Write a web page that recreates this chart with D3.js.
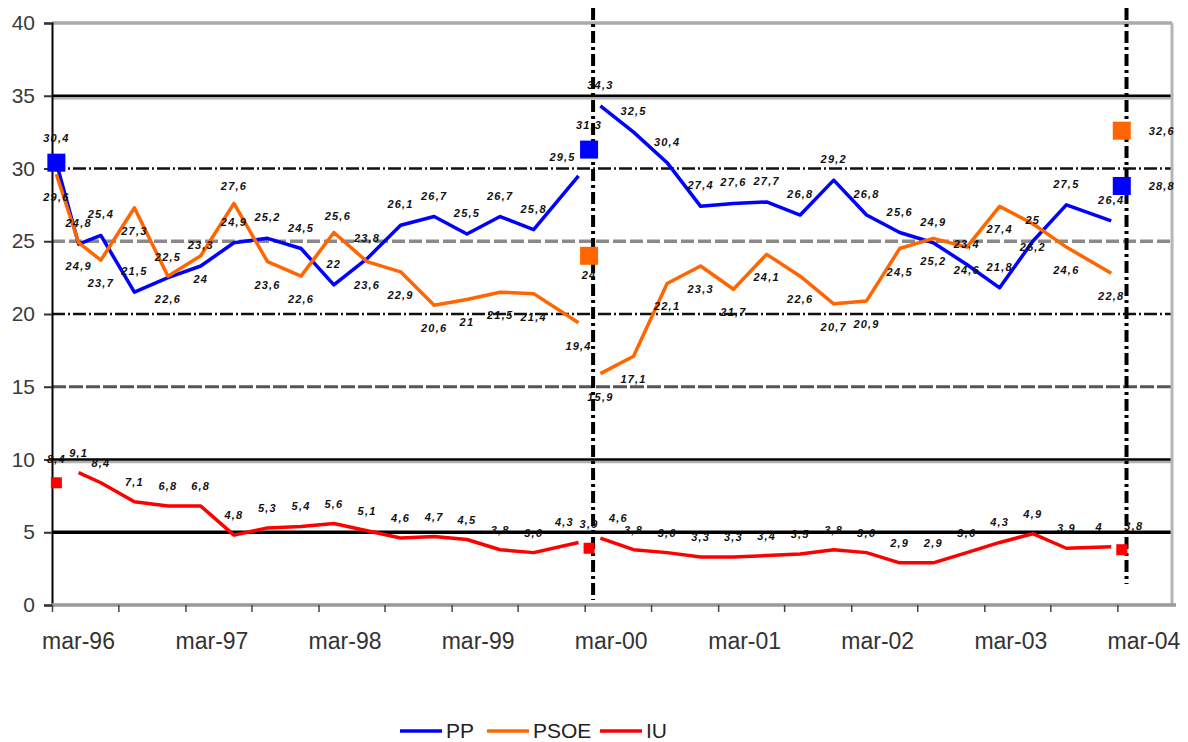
<!DOCTYPE html>
<html>
<head>
<meta charset="utf-8">
<script src="https://cdn.jsdelivr.net/npm/d3@7/dist/d3.min.js"></script>
<style>
  body { margin: 0; background: #fff; }
  svg { display: block; font-family: "Liberation Sans", Arial, sans-serif; }
</style>
</head>
<body>
<svg width="1188" height="742"></svg>
<script>
// fechas de los sondeos (null en 2000-03 = corte entre legislaturas)
const dates = ['1996-03', '1996-05', '1996-07', '1996-10', '1997-01', '1997-04', '1997-07', '1997-10',
  '1998-01', '1998-04', '1998-07', '1998-10', '1999-01', '1999-04', '1999-07', '1999-10', '2000-02',
  '2000-03',
  '2000-04', '2000-07', '2000-10', '2001-01', '2001-04', '2001-07', '2001-10', '2002-01', '2002-04',
  '2002-07', '2002-10', '2003-01', '2003-04', '2003-07', '2003-10', '2004-02'];

const ppValues = [30.4, 24.8, 25.4, 21.5, 22.5, 23.3, 24.9, 25.2, 24.5, 22, 23.8, 26.1, 26.7, 25.5, 26.7, 25.8, 29.5,
  null,
  34.3, 32.5, 30.4, 27.4, 27.6, 27.7, 26.8, 29.2, 26.8, 25.6, 24.9, 23.4, 21.8, 25.0, 27.5, 26.4];
const psoeValues = [29.6, 24.9, 23.7, 27.3, 22.6, 24, 27.6, 23.6, 22.6, 25.6, 23.6, 22.9, 20.6, 21, 21.5, 21.4, 19.4,
  null,
  15.9, 17.1, 22.1, 23.3, 21.7, 24.1, 22.6, 20.7, 20.9, 24.5, 25.2, 24.6, 27.4, 26.2, 24.6, 22.8];
const iuValues = [null, 9.1, 8.4, 7.1, 6.8, 6.8, 4.8, 5.3, 5.4, 5.6, 5.1, 4.6, 4.7, 4.5, 3.8, 3.6, 4.3,
  null,
  4.6, 3.8, 3.6, 3.3, 3.3, 3.4, 3.5, 3.8, 3.6, 2.9, 2.9, 3.6, 4.3, 4.9, 3.9, 4.0];

// resultados electorales (cuadrados)
const electionMonths = ['1996-03', '2000-03', '2004-03'];
const electionDays = ['2000-03-12', '2004-03-14'];
const ppElection = [30.4, 31.3, 28.8];
const psoeElection = [null, 24, 32.6];
const iuElection = [8.4, 3.9, 3.8];

const yTicks = [0, 5, 10, 15, 20, 25, 30, 35, 40];
const xLabels = ['mar-96', 'mar-97', 'mar-98', 'mar-99', 'mar-00', 'mar-01', 'mar-02', 'mar-03', 'mar-04'];

const seriesNames = ['PP', 'PSOE', 'IU'];
const seriesColors = ['#0000ff', '#ff6600', '#ff0000'];

const svg = d3.select('svg');
const parseMonth = d3.timeParse('%Y-%m');
const parseDay = d3.timeParse('%Y-%m-%d');

const start = new Date(1996, 1, 18);
const x = d3.scaleTime()
  .domain([start, new Date(2004, 1, 18)])
  .range([52, 1117.4]);
const y = d3.scaleLinear().domain([0, 40]).range([605, 23]);

const plotLeft = 52, plotRight = 1172;

// líneas horizontales de referencia
const grid = svg.append('g');
const gridStyle = v => ({
  40: { stroke: '#aaaaaa', w: 3.5, dash: null },
  35: { stroke: '#000', w: 2.5, dash: null, under: true },
  30: { stroke: '#111', w: 2.5, dash: '13,3,2,3' },
  25: { stroke: '#8a8a8a', w: 3.5, dash: '13,4' },
  20: { stroke: '#111', w: 2.5, dash: '13,3,2,3' },
  15: { stroke: '#555', w: 3, dash: '14,3' },
  10: { stroke: '#000', w: 2.5, dash: null, under: true },
  5: { stroke: '#000', w: 3.5, dash: null }
}[v]);

yTicks.filter(v => v > 0).forEach(v => {
  const s = gridStyle(v);
  if (s.under) {
    grid.append('line')
      .attr('x1', plotLeft).attr('x2', plotRight)
      .attr('y1', y(v) + 2.5).attr('y2', y(v) + 2.5)
      .attr('stroke', '#b0b0b0').attr('stroke-width', 2.5);
  }
  grid.append('line')
    .attr('x1', plotLeft).attr('x2', plotRight)
    .attr('y1', y(v)).attr('y2', y(v))
    .attr('stroke', s.stroke)
    .attr('stroke-width', s.w)
    .attr('stroke-dasharray', s.dash);
});

// borde derecho del área
svg.append('line')
  .attr('x1', plotRight).attr('x2', plotRight)
  .attr('y1', y(40)).attr('y2', y(0))
  .attr('stroke', '#b5b5b5').attr('stroke-width', 3);

// eje Y
const yAxis = svg.append('g')
  .attr('transform', `translate(${plotLeft},0)`)
  .call(d3.axisLeft(y).tickValues(yTicks).tickSize(8).tickPadding(9));
yAxis.select('.domain').attr('stroke', '#000').attr('stroke-width', 2);
yAxis.selectAll('.tick line').attr('stroke', '#333').attr('stroke-width', 2);
yAxis.selectAll('.tick text')
  .attr('font-size', 21).attr('fill', '#3a3a3a')
  .attr('font-family', '"Liberation Sans", Arial, sans-serif');

// eje X
const tickDates = d3.range(17).map(i => d3.timeMonth.offset(start, 6 * i));
const xAxis = svg.append('g')
  .attr('transform', `translate(0,${y(0)})`)
  .call(d3.axisBottom(x)
    .tickValues(tickDates)
    .tickSize(7)
    .tickFormat((d, i) => (i % 2 === 0 ? xLabels[i / 2] : '')));
xAxis.select('.domain').remove();
xAxis.insert('line', ':first-child')
  .attr('x1', plotLeft).attr('x2', 1176)
  .attr('stroke', '#999').attr('stroke-width', 3.5);
xAxis.selectAll('.tick line').attr('stroke', '#444').attr('stroke-width', 1.5);
xAxis.selectAll('.tick text')
  .attr('dx', 26).attr('dy', 34)
  .attr('font-size', 23).attr('fill', '#333')
  .attr('font-family', '"Liberation Sans", Arial, sans-serif');

// líneas verticales de las elecciones
svg.append('g').selectAll('line')
  .data(electionDays)
  .join('line')
  .attr('x1', d => x(parseDay(d))).attr('x2', d => x(parseDay(d)))
  .attr('y1', 8)
  .attr('y2', (d, i) => (i === 0 ? 600 : 584))
  .attr('stroke', '#000')
  .attr('stroke-width', 4)
  .attr('stroke-dasharray', '12,4,3,4');

// series
const allValues = [ppValues, psoeValues, iuValues];
const allElection = [ppElection, psoeElection, iuElection];
const series = seriesNames.map((name, k) => ({
  name,
  color: seriesColors[k],
  points: dates.map((d, i) => ({ key: d, date: parseMonth(d), v: allValues[k][i] })),
  squares: electionMonths.map((d, i) => ({ key: 'e' + d, date: parseMonth(d), v: allElection[k][i], i }))
    .filter(p => p.v != null)
}));

const line = d3.line()
  .defined(d => d.v != null)
  .x(d => x(d.date))
  .y(d => y(d.v));

svg.append('g').selectAll('path')
  .data(series)
  .join('path')
  .attr('fill', 'none')
  .attr('stroke', d => d.color)
  .attr('stroke-width', 3.5)
  .attr('stroke-linejoin', 'round')
  .attr('d', d => line(d.points));

// cuadrados de resultados
svg.append('g').selectAll('g')
  .data(series)
  .join('g')
  .attr('fill', d => d.color)
  .selectAll('rect')
  .data(d => d.squares.map(p => ({ ...p, name: d.name })))
  .join('rect')
  .attr('width', d => (d.name === 'IU' ? 11 : 18))
  .attr('height', d => (d.name === 'IU' ? 11 : 18))
  .attr('x', d => x(d.date) - (d.name === 'IU' ? 5.5 : 9))
  .attr('y', d => y(d.v) - (d.name === 'IU' ? 5.5 : 9));

// etiquetas de datos
const fmt = v => (Number.isInteger(v) ? String(v) : v.toFixed(1).replace('.', ','));
const labelDy = { PP: -17, PSOE: 27, IU: -16 };
// pequeños desplazamientos para que no se pisen
const nudge = {
  'PSOE|1997-07': [0, -40],
  'PSOE|1998-04': [4, -40],
  'PP|2000-02': [-16, 2],
  'IU|2000-02': [-14, 0],
  'IU|2000-04': [18, 0],
  'IU|2004-02': [-12, 0],
  'IU|e2004-03': [12, 0]
};
const labels = svg.append('g')
  .attr('font-size', 11)
  .attr('font-weight', 'bold')
  .attr('font-style', 'italic')
  .attr('letter-spacing', 1.2)
  .attr('fill', '#111')
  .attr('text-anchor', 'middle');

series.forEach(s => {
  const squareDates = s.squares.map(p => +p.date);
  const pts = s.points.filter(p => p.v != null && !squareDates.includes(+p.date));
  const nd = d => nudge[s.name + '|' + d.key] || [0, 0];
  labels.append('g').selectAll('text')
    .data(pts)
    .join('text')
    .attr('x', d => x(d.date) + nd(d)[0])
    .attr('y', d => y(d.v) + labelDy[s.name] + nd(d)[1])
    .text(d => fmt(d.v));

  const right = d => d.i === 2 && s.name !== 'IU';
  labels.append('g').selectAll('text')
    .data(s.squares)
    .join('text')
    .attr('x', d => x(d.date) + (right(d) ? 40 : 0) + nd(d)[0])
    .attr('y', d => y(d.v) + (right(d) ? 4 : labelDy[s.name] - 4) + nd(d)[1])
    .text(d => fmt(d.v));
});

// leyenda
const legendX = [400, 487, 600];
const legend = svg.append('g').attr('transform', 'translate(0,731)');
seriesNames.forEach((name, k) => {
  legend.append('line')
    .attr('x1', legendX[k]).attr('x2', legendX[k] + 42)
    .attr('stroke', seriesColors[k]).attr('stroke-width', 3.5);
  legend.append('text')
    .attr('x', legendX[k] + 46).attr('y', 7)
    .attr('font-size', 21)
    .attr('fill', '#222')
    .text(name);
});
</script>
</body>
</html>
